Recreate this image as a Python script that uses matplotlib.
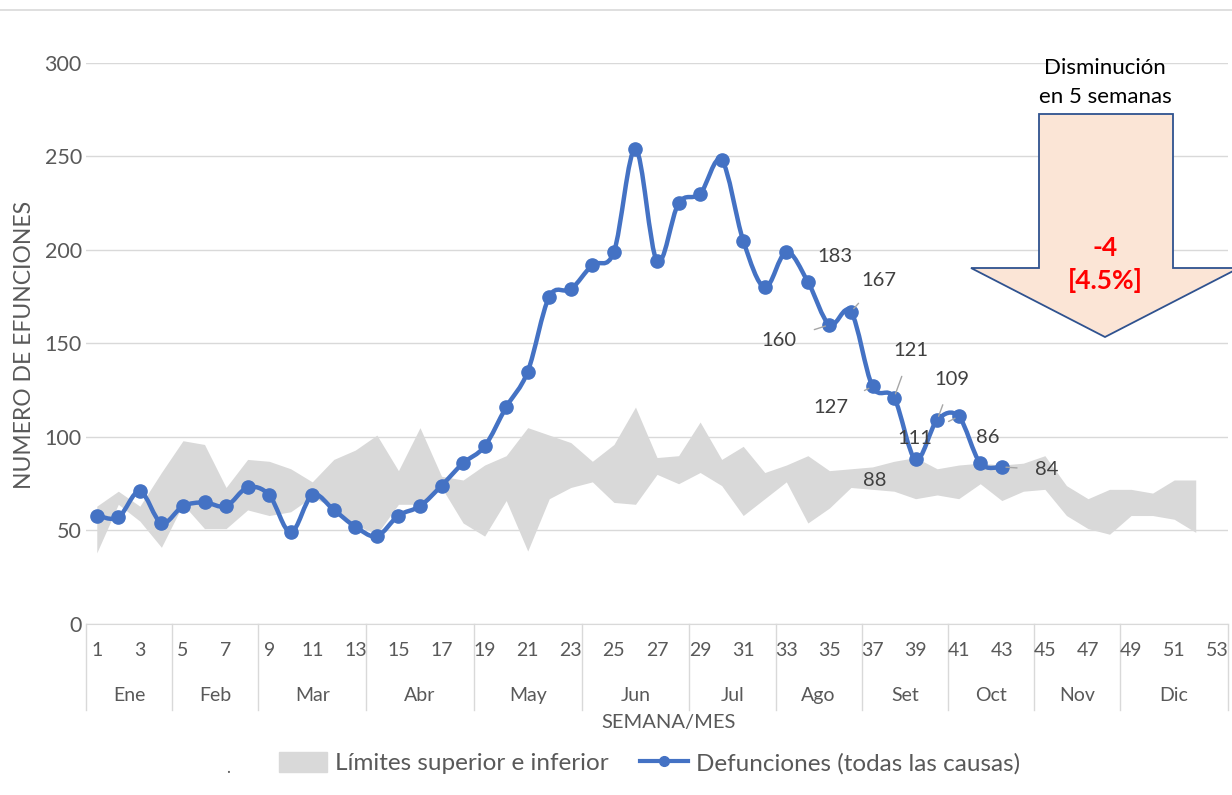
import numpy as np
import matplotlib
matplotlib.use("Agg")
import matplotlib.pyplot as plt
from matplotlib.path import Path
from matplotlib.patches import PathPatch, Patch, Polygon
from matplotlib.lines import Line2D
import matplotlib.transforms as mtransforms

plt.rcParams['font.family'] = ['Lato', 'DejaVu Sans']

# weekly deaths (all causes), weeks 1..43
weeks = list(range(1, 44))
deaths = [58, 57, 71, 54, 63, 65, 63, 73, 69, 49,
          69, 61, 52, 47, 58, 63, 74, 86, 95, 116,
          135, 175, 179, 192, 199, 254, 194, 225, 230, 248,
          205, 180, 199, 183, 160, 167, 127, 121, 88, 109,
          111, 86, 84]

# expected band, weeks 1..52
band_weeks = list(range(1, 53))
upper = [63, 71, 63, 81, 98, 96, 73, 88, 87, 83,
         76, 88, 93, 101, 82, 105, 79, 77, 85, 90,
         105, 101, 97, 87, 96, 116, 89, 90, 108, 88,
         95, 81, 85, 90, 82, 83, 84, 87, 89, 83,
         85, 86, 85, 86, 90, 74, 67, 72, 72, 70,
         77, 77]
lower = [38, 64, 55, 41, 64, 51, 51, 61, 58, 60,
         68, 62, 53, 48, 64, 64, 73, 54, 47, 66,
         39, 67, 73, 76, 65, 64, 80, 75, 81, 74,
         58, 67, 76, 54, 62, 73, 72, 71, 67, 69,
         67, 75, 66, 71, 72, 58, 51, 48, 58, 58,
         56, 49]

months = ["Ene", "Feb", "Mar", "Abr", "May", "Jun", "Jul", "Ago", "Set", "Oct", "Nov", "Dic"]
month_last_week = [4, 8, 13, 18, 23, 28, 32, 36, 40, 44, 48, 53]

# labelled points: week -> offset of label in pixels, leader line or not
labels = {34: (27, 25, False), 35: (-50, -16, True), 36: (28, 31, True),
          37: (-42, -21, True), 38: (17, 47, True), 39: (-41, -21, False),
          40: (15, 41, True), 41: (-44, -22, True), 42: (7, 26, False),
          43: (45, -3, True)}

TEXT = "#595959"
BLUE = "#4472C4"
GRID = "#D9D9D9"

fig = plt.figure(figsize=(12.32, 7.95), dpi=100)
ax = fig.add_axes([0.0698, 0.2151, 0.9270, 0.7057])

ax.fill_between(band_weeks, lower, upper, color="#D9D9D9", lw=0, zorder=1)


def smooth_path(xs, ys):
    n = len(xs)
    verts = [(xs[0], ys[0])]
    codes = [Path.MOVETO]
    for i in range(n - 1):
        a = i - 1 if i > 0 else i
        d = i + 2 if i + 2 < n else i + 1
        c1 = (xs[i] + (xs[i + 1] - xs[a]) / 6, ys[i] + (ys[i + 1] - ys[a]) / 6)
        c2 = (xs[i + 1] - (xs[d] - xs[i]) / 6, ys[i + 1] - (ys[d] - ys[i]) / 6)
        verts += [c1, c2, (xs[i + 1], ys[i + 1])]
        codes += [Path.CURVE4] * 3
    return Path(verts, codes)


ax.add_patch(PathPatch(smooth_path(weeks, deaths), fill=False, ec=BLUE, lw=3.2, zorder=3,
                       capstyle='round', joinstyle='round'))
ax.plot(weeks, deaths, ls='none', marker='o', ms=9.5, color=BLUE, zorder=4)

for w, (dx, dy, leader) in labels.items():
    v = deaths[w - 1]
    ax.annotate(str(v), xy=(w, v), xytext=(dx * 0.72, dy * 0.72), textcoords='offset points',
                ha='center', va='center', fontsize=14.5, color="#404040", zorder=5,
                arrowprops=dict(arrowstyle='-', color="#A6A6A6", lw=1,
                                shrinkA=11, shrinkB=3) if leader else None)

ax.set_xlim(0.5, 53.5)
ax.set_ylim(0, 300)
ax.set_yticks(range(0, 301, 50))
ax.yaxis.grid(True, color=GRID, lw=1)
ax.set_axisbelow(True)
ax.tick_params(axis='y', length=0, pad=3, labelsize=15.5, labelcolor=TEXT)
ax.set_xticks([])
for s in ['top', 'right', 'left']:
    ax.spines[s].set_visible(False)
ax.spines['bottom'].set_color(GRID)

trans = mtransforms.blended_transform_factory(ax.transData, ax.transAxes)
for w in range(1, 54, 2):
    ax.text(w, -0.048, str(w), transform=trans, ha='center', va='center',
            fontsize=14, color=TEXT)
prev = 0
for m, last in zip(months, month_last_week):
    ax.text((prev + last) / 2 + 0.5, -0.127, m, transform=trans, ha='center', va='center',
            fontsize=14, color=TEXT)
    prev = last
for b in [0] + month_last_week:
    ax.plot([b + 0.5, b + 0.5], [0, -0.153], transform=trans, color=GRID, lw=1, clip_on=False)

ax.text(0.51, -0.175, "SEMANA/MES", transform=ax.transAxes, ha='center', va='center',
        fontsize=14.5, color=TEXT)
fig.text(25 / 1232, 1 - 345 / 795, "NUMERO DE EFUNCIONES", rotation=90, ha='center',
         va='center', fontsize=16.5, color=TEXT)

# top border
fig.add_artist(Line2D([0, 1], [1 - 10 / 795, 1 - 10 / 795], color=GRID, lw=1.2))

# legend
handles = [Patch(color="#D9D9D9"), Line2D([], [], color=BLUE, lw=3, marker='o', ms=7)]
fig.legend(handles, ["Límites superior e inferior", "Defunciones (todas las causas)"],
           loc='center', bbox_to_anchor=(0.527, 1 - 763 / 795), ncol=2, frameon=False,
           fontsize=17.5, labelcolor=TEXT, handlelength=2.0, handleheight=0.9,
           columnspacing=1.3, handletextpad=0.3)
fig.text(228 / 1232, 1 - 768 / 795, ".", ha='center', va='center', fontsize=12, color=TEXT)

# decrease arrow
W, H = 1232, 795
pts = [(1039, 114), (1173, 114), (1173, 268), (1239, 268), (1105, 337), (971, 268), (1039, 268)]
fig.add_artist(Polygon([(x / W, 1 - y / H) for x, y in pts], closed=True,
                       transform=fig.transFigure, fc="#FBE5D6", ec="#2F528F", lw=1.3))
fig.text(1105 / W, 1 - 68 / H, "Disminución", ha='center', va='center', fontsize=16, color='black')
fig.text(1105 / W, 1 - 97 / H, "en 5 semanas", ha='center', va='center', fontsize=16, color='black')
fig.text(1105 / W, 1 - 248 / H, "-4", ha='center', va='center', fontsize=19, color='#FF0000',
         fontweight='bold')
fig.text(1105 / W, 1 - 281 / H, "[4.5%]", ha='center', va='center', fontsize=19, color='#FF0000',
         fontweight='bold')

fig.savefig("out.png", dpi=100)
